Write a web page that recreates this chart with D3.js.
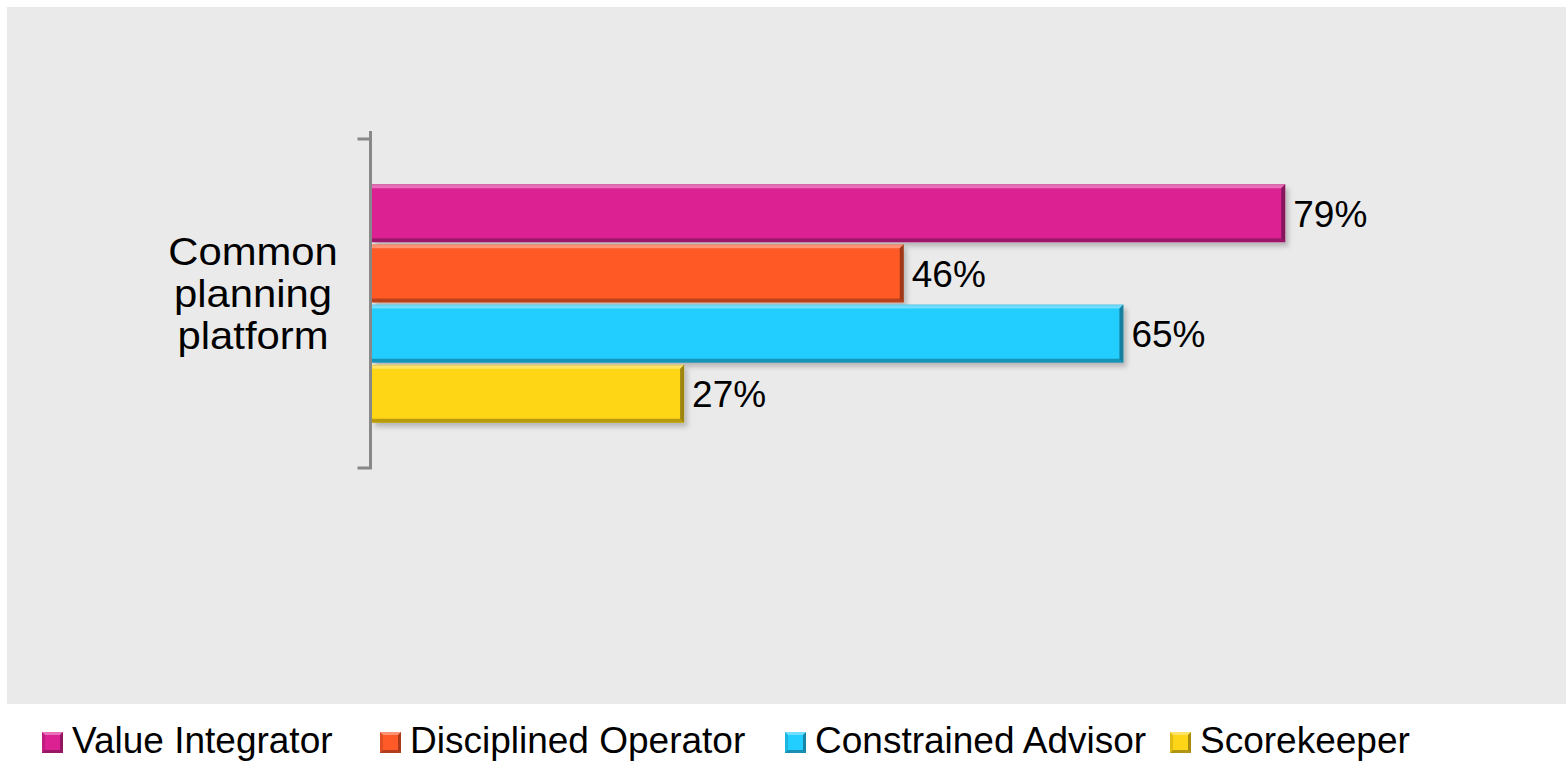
<!DOCTYPE html>
<html>
<head>
<meta charset="utf-8">
<script src="https://cdn.jsdelivr.net/npm/d3@7"></script>
<style>
  body { margin: 0; background: #fff; }
  svg { display: block; font-family: "Liberation Sans", Arial, sans-serif; }
</style>
</head>
<body>
<svg width="1566" height="761"></svg>
<script>
const categories = ['Common planning platform']
const categoryLines = [['Common', 'planning', 'platform']]
const series = ['Value Integrator', 'Disciplined Operator', 'Constrained Advisor', 'Scorekeeper']
const values = [79, 46, 65, 27]
const colors = ['#dc2293', '#ff5a28', '#22cdff', '#ffd617']
const legendX = [42, 380, 785, 1170]

const svg = d3.select('svg')
const W = 1566, H = 761

// plot panel
svg.append('rect')
  .attr('x', 7).attr('y', 7)
  .attr('width', W - 7).attr('height', 697)
  .attr('fill', '#eaeaea')

const defs = svg.append('defs')
defs.append('filter')
  .attr('id', 'shadow')
  .attr('x', '-5%').attr('y', '-20%').attr('width', '110%').attr('height', '150%')
  .append('feDropShadow')
  .attr('dx', 3).attr('dy', 4).attr('stdDeviation', 2.5)
  .attr('flood-color', '#000').attr('flood-opacity', 0.22)

const x = d3.scaleLinear().domain([0, 100]).range([372, 1528])
const y = d3.scaleBand().domain(categories).range([139, 468])
const ySeries = d3.scaleBand().domain(series)
  .range([0, y.bandwidth()])
  .paddingInner(0.035).paddingOuter(0.75)

function bevelBar (g, x0, x1, y0, y1, color, b) {
  const wrap = g.append('g').attr('filter', 'url(#shadow)')
  wrap.append('rect')
    .attr('x', x0).attr('y', y0)
    .attr('width', x1 - x0).attr('height', y1 - y0)
    .attr('fill', color)
  // top highlight
  wrap.append('path')
    .attr('d', `M${x0},${y0}H${x1}L${x1 - b},${y0 + b}H${x0}Z`)
    .attr('fill', '#fff').attr('fill-opacity', 0.35)
  wrap.append('path')
    .attr('d', `M${x0},${y0}H${x1}V${y0 + 1}H${x0}Z`)
    .attr('fill', '#000').attr('fill-opacity', 0.1)
  // bottom shade
  wrap.append('path')
    .attr('d', `M${x0},${y1}H${x1}L${x1 - b},${y1 - b}H${x0}Z`)
    .attr('fill', '#000').attr('fill-opacity', 0.28)
  // right shade
  wrap.append('path')
    .attr('d', `M${x1},${y0}V${y1}L${x1 - b},${y1 - b}V${y0 + b}Z`)
    .attr('fill', '#000').attr('fill-opacity', 0.38)
}

const plot = svg.append('g')

categories.forEach((cat, ci) => {
  const g = plot.append('g').attr('transform', `translate(0,${y(cat)})`)
  series.forEach((s, i) => {
    const y0 = ySeries(s), y1 = y0 + ySeries.bandwidth()
    bevelBar(g, x(0), x(values[i]), y0, y1, colors[i], 4)
    g.append('text')
      .attr('x', x(values[i]) + 8)
      .attr('y', (y0 + y1) / 2)
      .attr('dy', '0.36em')
      .attr('font-size', 37)
      .attr('fill', '#000')
      .text(values[i] + '%')
  })

  // category label, glyphs slightly stretched like the original
  const lbl = svg.append('text')
    .attr('transform', 'translate(253,0) scale(1.1,1)')
    .attr('text-anchor', 'middle')
    .attr('font-size', 38)
    .attr('fill', '#000')
  const lines = categoryLines[ci]
  const mid = y(cat) + y.bandwidth() / 2
  lines.forEach((t, k) => {
    lbl.append('tspan')
      .attr('x', 0)
      .attr('y', mid + (k - (lines.length - 1) / 2) * 42 + 4)
      .text(t)
  })
})

// category axis
const axis = svg.append('g').attr('transform', `translate(${x(0) - 1.5},0)`)
  .call(d3.axisLeft(y).tickValues([]).tickSizeOuter(13))
axis.select('.domain').attr('stroke', '#888').attr('stroke-width', 3)
  .attr('d', `M-13,${y.range()[0]}H0V${y.range()[1]}H-13`)
axis.append('line')
  .attr('x1', 0).attr('x2', 0)
  .attr('y1', 131).attr('y2', y.range()[0])
  .attr('stroke', '#888').attr('stroke-width', 3)

// legend
const legend = svg.append('g')
series.forEach((s, i) => {
  const lg = legend.append('g').attr('transform', `translate(${legendX[i]},732)`)
  const wrap = lg.append('g')
  wrap.append('rect').attr('width', 21).attr('height', 21).attr('fill', colors[i])
  wrap.append('path').attr('d', 'M0,0H21L18,3H3Z').attr('fill', '#fff').attr('fill-opacity', 0.35)
  wrap.append('path').attr('d', 'M0,21H21L18,18H3Z').attr('fill', '#000').attr('fill-opacity', 0.3)
  wrap.append('path').attr('d', 'M21,0V21L18,18V3Z').attr('fill', '#000').attr('fill-opacity', 0.35)
  wrap.append('path').attr('d', 'M0,0V21L3,18V3Z').attr('fill', '#000').attr('fill-opacity', 0.12)
  lg.append('text')
    .attr('x', 30).attr('y', 21)
    .attr('font-size', 37)
    .attr('fill', '#000')
    .text(s)
})
</script>
</body>
</html>
